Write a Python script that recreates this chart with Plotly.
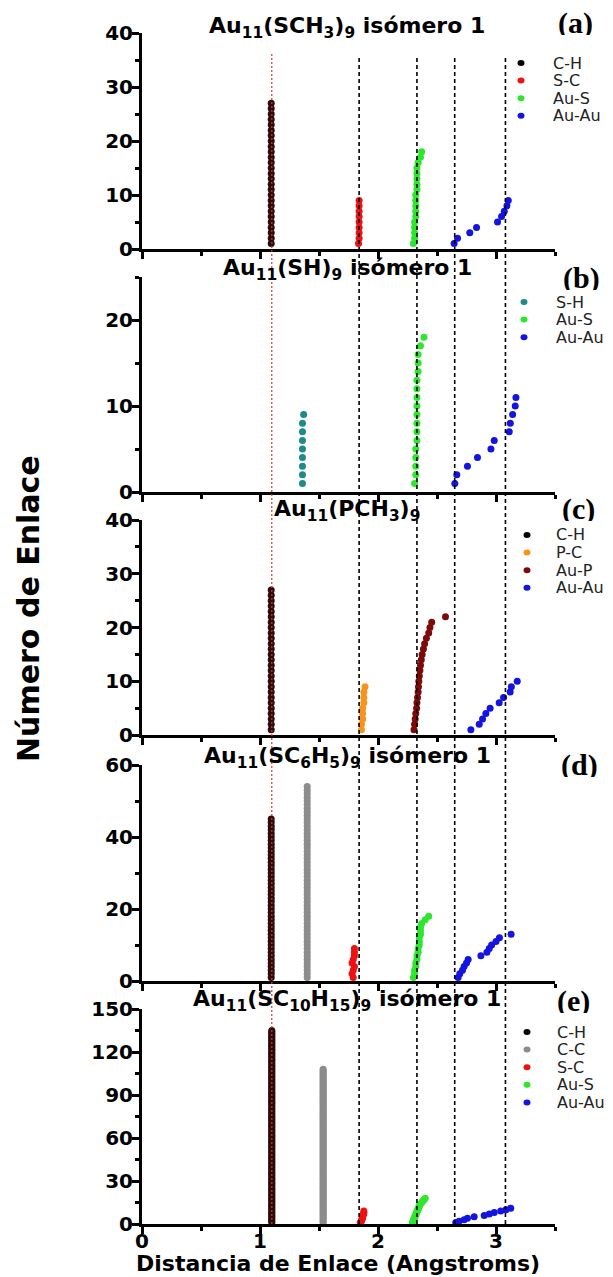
import plotly.graph_objects as go

W, H = 613, 1277

def fx(p):
    return p / W

def fy(p):
    return 1 - p / H

# ---------------- data (bond distance in Angstrom, sorted; bond number = rank) -------------
# (a) Au11(SCH3)9 isomer 1
a_ch_x = [1.095] * 27
a_sc_x = [1.835, 1.84, 1.84, 1.84, 1.84, 1.84, 1.84, 1.84, 1.84]
a_aus_x = [2.30, 2.31, 2.31, 2.31, 2.31, 2.32, 2.32, 2.32, 2.32, 2.32, 2.33, 2.33,
           2.33, 2.33, 2.33, 2.34, 2.36, 2.37]
a_auau_x = [2.645, 2.674, 2.778, 2.835, 3.013, 3.047, 3.07, 3.093, 3.104]

# (b) Au11(SH)9 isomer 1
b_sh_x = [1.36, 1.36, 1.36, 1.36, 1.36, 1.36, 1.36, 1.36, 1.37]
b_aus_x = [2.31, 2.32, 2.32, 2.32, 2.32, 2.33, 2.33, 2.33, 2.33, 2.33, 2.33, 2.33,
           2.33, 2.34, 2.34, 2.34, 2.36, 2.39]
b_auau_x = [2.651, 2.668, 2.758, 2.843, 2.957, 2.985, 3.112, 3.121, 3.141, 3.163, 3.169]

# (c) Au11(PCH3)9
c_ch_x = [1.095] * 27
c_pc_x = [1.86, 1.86, 1.87, 1.87, 1.87, 1.88, 1.88, 1.88, 1.89]
c_aup_x = [2.305, 2.31, 2.315, 2.32, 2.327, 2.33, 2.335, 2.34, 2.343, 2.346, 2.35,
           2.355, 2.36, 2.367, 2.374, 2.385, 2.395, 2.41, 2.43, 2.44, 2.455, 2.572]
c_auau_x = [2.787, 2.858, 2.886, 2.914, 2.95, 3.027, 3.064, 3.12, 3.13, 3.18]

# (d) Au11(SC6H5)9 isomer 1
d_ch_x = [1.095] * 45
d_cc_x = [1.40] * 54
d_sc_x = [1.79, 1.78, 1.79, 1.80, 1.78, 1.79, 1.80, 1.80, 1.80]
d_aus_x = [2.30, 2.31, 2.31, 2.32, 2.32, 2.33, 2.33, 2.34, 2.34, 2.35, 2.35, 2.35,
           2.36, 2.36, 2.36, 2.37, 2.40, 2.43]
d_auau_x = [2.679, 2.693, 2.716, 2.730, 2.750, 2.764, 2.872, 2.923, 2.943, 2.963,
            3.00, 3.029, 3.128]

# (e) Au11(SC10H15)9 isomer 1
e_ch_x = [1.10] * 135
e_cc_x = [1.535] * 108
e_sc_x = [1.85, 1.86, 1.86, 1.87, 1.87, 1.87, 1.88, 1.88, 1.88]
e_aus_x = [2.29, 2.30, 2.30, 2.31, 2.31, 2.32, 2.32, 2.33, 2.33, 2.34, 2.34, 2.35,
           2.35, 2.36, 2.37, 2.38, 2.39, 2.40]
e_auau_x = [2.659, 2.687, 2.73, 2.758, 2.815, 2.90, 2.943, 2.985, 3.04, 3.084, 3.125]

# reference distances (vertical guide lines)
ref_red = 1.10
ref_black = [1.84, 2.33, 2.65, 3.08]

panel_titles = [
    "<b>Au<sub>11</sub>(SCH<sub>3</sub>)<sub>9</sub> isómero 1</b>",
    "<b>Au<sub>11</sub>(SH)<sub>9</sub> isómero 1</b>",
    "<b>Au<sub>11</sub>(PCH<sub>3</sub>)<sub>9</sub></b>",
    "<b>Au<sub>11</sub>(SC<sub>6</sub>H<sub>5</sub>)<sub>9</sub> isómero 1</b>",
    "<b>Au<sub>11</sub>(SC<sub>10</sub>H<sub>15</sub>)<sub>9</sub> isómero 1</b>",
]
panel_labels = ["(a)", "(b)", "(c)", "(d)", "(e)"]
y_max = [40, 25, 40, 60, 150]
y_dtick = [10, 10, 10, 20, 30]

COL = {
    "C-H": "#2a0c0c",
    "S-C": "#ee1111",
    "Au-S": "#2ee62e",
    "Au-Au": "#1414e0",
    "S-H": "#1e8a8a",
    "P-C": "#f7941d",
    "Au-P": "#7d0a0a",
    "C-C": "#8c8c8c",
}
LEG_COL = dict(COL, **{"C-H": "#000000"})

panels = [
    [("C-H", a_ch_x), ("S-C", a_sc_x), ("Au-S", a_aus_x), ("Au-Au", a_auau_x)],
    [("S-H", b_sh_x), ("Au-S", b_aus_x), ("Au-Au", b_auau_x)],
    [("C-H", c_ch_x), ("P-C", c_pc_x), ("Au-P", c_aup_x), ("Au-Au", c_auau_x)],
    [("C-H", d_ch_x), ("C-C", d_cc_x), ("S-C", d_sc_x), ("Au-S", d_aus_x), ("Au-Au", d_auau_x)],
    [("C-H", e_ch_x), ("C-C", e_cc_x), ("S-C", e_sc_x), ("Au-S", e_aus_x), ("Au-Au", e_auau_x)],
]
show_legend = [True, True, True, False, True]

# pixel layout
y_px = [(33, 249), (277, 492), (520, 735), (765, 981), (1009, 1224)]
x_px = (142, 555)
title_px = [28, 270, 510, 758, 1000]
label_px = [(575, 23), (581, 278), (578, 509), (579, 765), (573, 1001)]
legend_pos = [(521, 552, 63), (524, 555, 302), (527, 555, 535), None, (527, 556, 1032)]
legend_step = 17.6

fig = go.Figure()
for i, series in enumerate(panels):
    ax = "" if i == 0 else str(i + 1)
    for name, xs in series:
        fig.add_trace(go.Scatter(
            x=xs, y=list(range(1, len(xs) + 1)), mode="markers", name=name,
            marker=dict(color=COL[name], size=7, line=dict(width=0)),
            xaxis="x" + ax, yaxis="y" + ax, showlegend=False,
        ))

FONT = "DejaVu Sans"
tickfont = dict(family=FONT, size=20, color="black", weight="bold")
layout = dict(
    width=W, height=H, margin=dict(l=0, r=0, t=0, b=0),
    paper_bgcolor="white", plot_bgcolor="white", showlegend=False,
)
for i in range(5):
    ax = "" if i == 0 else str(i + 1)
    top, bot = y_px[i]
    layout["xaxis" + ax] = dict(
        domain=[fx(x_px[0]), fx(x_px[1])], range=[0, 3.5], anchor="y" + ax,
        showline=True, linewidth=3, linecolor="black", showgrid=False, zeroline=False,
        ticks="outside", ticklen=7, tickwidth=3, tickcolor="black", dtick=1, tick0=0,
        minor=dict(dtick=0.5, ticks="outside", ticklen=4, tickwidth=3, tickcolor="black"),
        showticklabels=(i == 4), tickfont=tickfont, ticklabelstandoff=-10,
        automargin=False, fixedrange=True,
    )
    layout["yaxis" + ax] = dict(
        domain=[fy(bot), fy(top)], range=[0, y_max[i]], anchor="x" + ax,
        showline=True, linewidth=3, linecolor="black", showgrid=False, zeroline=False,
        ticks="outside", ticklen=7, tickwidth=3, tickcolor="black", dtick=y_dtick[i], tick0=0,
        minor=dict(dtick=y_dtick[i] / 2, ticks="outside", ticklen=4, tickwidth=3, tickcolor="black"),
        tickfont=tickfont, ticklabelstandoff=-5, automargin=False, fixedrange=True,
    )
fig.update_layout(**layout)

ann = []
shapes = []
for i in range(5):
    ann.append(dict(x=fx(347), y=fy(title_px[i]), xref="paper", yref="paper",
                    text=panel_titles[i], showarrow=False, xanchor="center", yanchor="middle",
                    font=dict(family=FONT, size=22, color="black")))
    lx, ly = label_px[i]
    ann.append(dict(x=fx(lx), y=fy(ly), xref="paper", yref="paper",
                    text="<b>" + panel_labels[i] + "</b>", showarrow=False,
                    xanchor="center", yanchor="middle", height=24, borderpad=0,
                    font=dict(family="Liberation Serif", size=30, color="black")))
    # per-panel legend
    if show_legend[i]:
        mx, tx, y0 = legend_pos[i]
        for k, (name, _) in enumerate(panels[i]):
            cy = y0 + k * legend_step
            shapes.append(dict(type="circle", xref="paper", yref="paper",
                               xsizemode="pixel", ysizemode="pixel",
                               xanchor=fx(mx), yanchor=fy(cy), x0=-3.5, x1=3.5, y0=-3, y1=3,
                               fillcolor=LEG_COL[name], line=dict(width=0), layer="above"))
            ann.append(dict(x=fx(tx), y=fy(cy), xref="paper", yref="paper", text=name,
                            showarrow=False, xanchor="left", yanchor="middle",
                            height=15, borderpad=0,
                            font=dict(family=FONT, size=16, color="#222222")))
ann.append(dict(x=fx(28), y=fy(609), xref="paper", yref="paper", text="<b>Número de Enlace</b>",
                showarrow=False, textangle=-90, xanchor="center", yanchor="middle",
                font=dict(family=FONT, size=30, color="black")))
ann.append(dict(x=fx(338), y=fy(1263), xref="paper", yref="paper",
                text="<b>Distancia de Enlace (Angstroms)</b>", showarrow=False,
                xanchor="center", yanchor="middle", borderpad=0,
                font=dict(family=FONT, size=22, color="black")))
fig.update_layout(annotations=ann)

shapes.append(dict(type="line", xref="x5", yref="paper", x0=ref_red, x1=ref_red,
                   y0=fy(1224), y1=fy(52), layer="above",
                   line=dict(color="#e03030", width=1.2, dash="2px,2px")))
for xv in ref_black:
    shapes.append(dict(type="line", xref="x5", yref="paper", x0=xv, x1=xv,
                       y0=fy(1224), y1=fy(55), layer="above",
                       line=dict(color="black", width=1.6, dash="4px,3px")))
fig.update_layout(shapes=shapes)

fig.write_html("out.html", config={"displayModeBar": False},
               post_script="document.body.style.margin='0';")
